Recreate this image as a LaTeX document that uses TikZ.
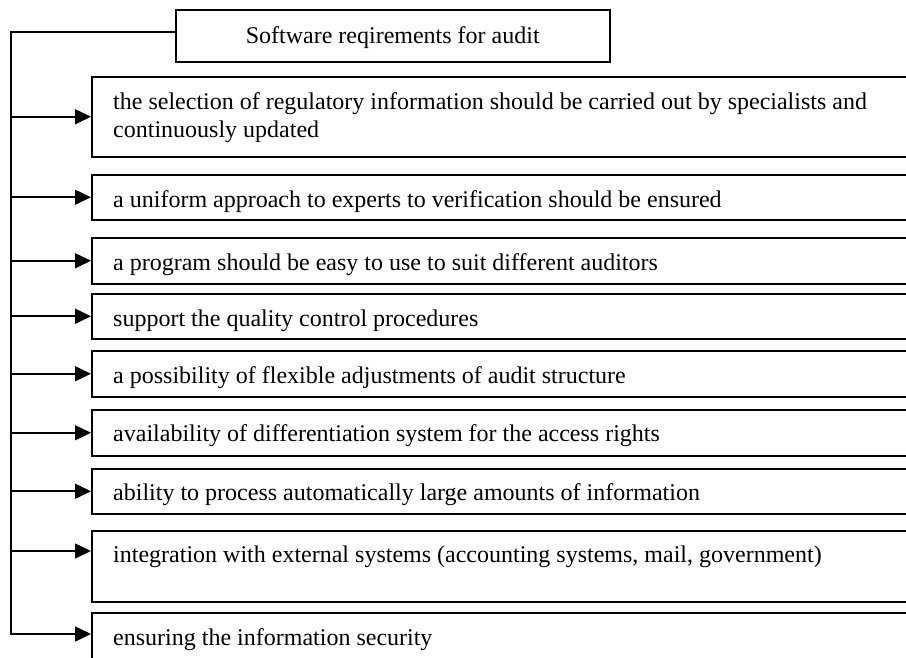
\documentclass[tikz,border=0pt]{standalone}
\usepackage{fontspec}
\setmainfont{Liberation Serif}
\usetikzlibrary{arrows.meta,calc}
\begin{document}
\begin{tikzpicture}[x=1pt,y=-1pt,
  frame/.style={draw, line width=1.5pt, inner sep=0pt, anchor=north west},
  itembox/.style={frame, minimum width=840pt},
  itemtext/.style={anchor=base west, inner sep=0pt, font=\fontsize{24}{28}\selectfont},
  link/.style={line width=1.6pt, -{Triangle[length=16pt,width=15pt]}}]
\clip (0,0) rectangle (906,657);
\fill[white] (0,0) rectangle (906,657);

% heading box
\node[frame, minimum width=434pt, minimum height=52pt] (top) at (175,9) {};
\node[itemtext, anchor=base] (ttop) at ($(top.north)+(0,34)$) {Software reqirements for audit};

% requirement boxes
\node[itembox, minimum height=80pt] (b1) at (91,76) {};
\node[itembox, minimum height=45pt] (b2) at (91,174) {};
\node[itembox, minimum height=46pt] (b3) at (91,237) {};
\node[itembox, minimum height=45pt] (b4) at (91,293) {};
\node[itembox, minimum height=46pt] (b5) at (91,350) {};
\node[itembox, minimum height=46pt] (b6) at (91,409) {};
\node[itembox, minimum height=45pt] (b7) at (91,468) {};
\node[itembox, minimum height=71pt] (b8) at (91,530) {};
\node[itembox, minimum height=70pt] (b9) at (91,612) {};

\node[itemtext, anchor=base west] (t1a) at ($(b1.north west)+(22,33)$)
  {the selection of regulatory information should be carried out by specialists and};
\node[itemtext, anchor=base west] (t1b) at ($(t1a.base west)+(0,28)$) {continuously updated};
\node[itemtext] (t2) at ($(b2.north west)+(22,33)$) {a uniform approach to experts to verification should be ensured};
\node[itemtext] (t3) at ($(b3.north west)+(22,33)$) {a program should be easy to use to suit different auditors};
\node[itemtext] (t4) at ($(b4.north west)+(22,33)$) {support the quality control procedures};
\node[itemtext] (t5) at ($(b5.north west)+(22,33)$) {a possibility of flexible adjustments of audit structure};
\node[itemtext] (t6) at ($(b6.north west)+(22,32)$) {availability of differentiation system for the access rights};
\node[itemtext] (t7) at ($(b7.north west)+(22,32)$) {ability to process automatically large amounts of information};
\node[itemtext] (t8) at ($(b8.north west)+(22,32)$) {integration with external systems (accounting systems, mail, government)};
\node[itemtext] (t9) at ($(b9.north west)+(22,33)$) {ensuring the information security};

% spine and arrows
\coordinate (spine) at (11,0);
\coordinate (in9) at ($(b9.north west)+(0,22)$);
\coordinate (in8) at ($(b8.north west)+(0,21)$);
\draw[link] ($(top.north west)+(0,23)$) -| (in9 -| spine) -- (in9);
\foreach \b in {b1,b2,b3,b4,b5,b6,b7}
  \draw[link] (\b.west -| spine) -- (\b.west);
\draw[link] (in8 -| spine) -- (in8);
\end{tikzpicture}
\end{document}
